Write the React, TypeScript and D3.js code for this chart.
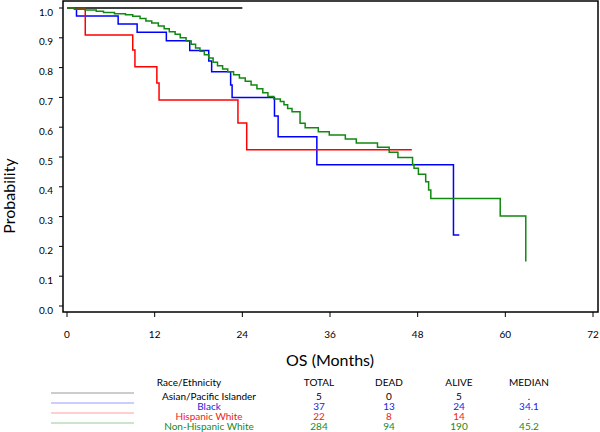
import React from "react";
import * as d3 from "d3";

// ---- data ----
const seriesNames = ["Asian/Pacific Islander", "Black", "Hispanic White", "Non-Hispanic White"];
const seriesColors = ["#000000", "#0000ff", "#ff0000", "#118811"];
const legendLineColors = ["#9a9a9a", "#9a9aff", "#ffa0a0", "#99c899"];
const textColors = ["#000000", "#2222dd", "#ee2222", "#228822"];

const asianTimes: number[] = [];
const asianSurv: number[] = [];
const asianEnd = 24;

const blackTimes = [1.3, 7.0, 9.6, 13.6, 16.8, 19.4, 19.8, 22.4, 22.6, 28.4, 28.9, 34.2, 52.9];
const blackSurv = [0.973, 0.946, 0.919, 0.89, 0.857, 0.822, 0.786, 0.742, 0.7, 0.638, 0.568, 0.474, 0.238];
const blackEnd = 53.7;

const hispTimes = [2.5, 9.0, 9.3, 12.3, 12.6, 23.4, 24.6];
const hispSurv = [0.909, 0.859, 0.803, 0.748, 0.691, 0.614, 0.524];
const hispEnd = 47.2;

const nhwTimes = [1.0, 2.5, 4.0, 5.0, 6.5, 8.0, 9.0, 10.0, 10.8, 11.6, 12.5, 13.3, 14.0, 14.8, 15.5, 16.3, 17.0, 17.6, 18.2, 18.8, 19.4, 20.0, 20.6, 21.3, 22.0, 22.8, 23.6, 24.4, 25.2, 26.0, 26.8, 27.5, 28.3, 29.2, 29.7, 30.2, 30.8, 31.9, 32.6, 34.4, 35.9, 38.1, 39.6, 42.5, 44.1, 45.3, 47.3, 47.5, 48.1, 49.1, 49.5, 49.8, 59.3, 62.8];
const nhwSurv = [0.996, 0.993, 0.989, 0.985, 0.981, 0.977, 0.972, 0.965, 0.956, 0.95, 0.94, 0.93, 0.92, 0.912, 0.9, 0.889, 0.878, 0.866, 0.855, 0.843, 0.832, 0.818, 0.806, 0.795, 0.786, 0.776, 0.765, 0.754, 0.742, 0.729, 0.716, 0.703, 0.695, 0.686, 0.675, 0.663, 0.652, 0.613, 0.598, 0.585, 0.574, 0.56, 0.547, 0.533, 0.516, 0.498, 0.475, 0.462, 0.442, 0.417, 0.389, 0.361, 0.302, 0.149];
const nhwEnd = 62.8;

const totals = ["5", "37", "22", "284"];
const deads = ["0", "13", "8", "94"];
const alives = ["5", "24", "14", "190"];
const medians = [".", "34.1", ".", "45.2"];

const xTicks = [0, 12, 24, 36, 48, 60, 72];
const yTicks = [0, 0.1, 0.2, 0.3, 0.4, 0.5, 0.6, 0.7, 0.8, 0.9, 1.0];

const FONT = "Lato, 'Open Sans', sans-serif";

export default function App() {
  const x = d3.scaleLinear().domain([0, 72]).range([67, 593]);
  const y = d3.scaleLinear().domain([0, 1]).range([306, 8]);
  const line = d3
    .line<[number, number]>()
    .x((d) => x(d[0]))
    .y((d) => y(d[1]))
    .curve(d3.curveStepAfter);

  const build = (times: number[], surv: number[], end: number): [number, number][] => {
    const pts: [number, number][] = [[0, 1]];
    times.forEach((t, i) => pts.push([t, surv[i]]));
    const last = surv.length ? surv[surv.length - 1] : 1;
    pts.push([end, last]);
    return pts;
  };

  const curves = [
    build(asianTimes, asianSurv, asianEnd),
    build(blackTimes, blackSurv, blackEnd),
    build(hispTimes, hispSurv, hispEnd),
    build(nhwTimes, nhwSurv, nhwEnd),
  ];

  const frame = { l: 63, r: 598, t: 1, b: 312 };
  const rowY = [399.5, 409.5, 419.5, 429.5];
  const lineY = [393, 403, 413, 423];

  return (
    <svg
      width={600}
      height={432}
      style={{ position: "absolute", left: 0, top: 0, background: "#fff" }}
      fontFamily={FONT}
    >
      <rect x={0} y={0} width={600} height={432} fill="#fff" />
      {/* curves */}
      {curves.map((c, i) => (
        <path key={i} d={line(c) || ""} fill="none" stroke={seriesColors[i]} strokeWidth={1.5} />
      ))}
      {/* frame */}
      <rect
        x={frame.l}
        y={frame.t}
        width={frame.r - frame.l}
        height={frame.b - frame.t}
        fill="none"
        stroke="#000"
        strokeWidth={1.5}
      />
      {/* y ticks */}
      {yTicks.map((v) => (
        <g key={v}>
          <line x1={frame.l - 4} x2={frame.l} y1={y(v)} y2={y(v)} stroke="#000" strokeWidth={1} />
          <text x={53} y={y(v) + 7.5} fontSize={10} textAnchor="end" fill="#000">
            {v.toFixed(1)}
          </text>
        </g>
      ))}
      {/* x ticks */}
      {xTicks.map((v) => (
        <g key={v}>
          <line x1={x(v)} x2={x(v)} y1={frame.b} y2={frame.b + 5} stroke="#000" strokeWidth={1} />
          <text x={x(v)} y={338} fontSize={10} textAnchor="middle" fill="#000">
            {v}
          </text>
        </g>
      ))}
      {/* axis titles */}
      <text x={330} y={366} fontSize={16} textAnchor="middle" fill="#000">
        OS (Months)
      </text>
      <text
        transform="translate(15,196) rotate(-90)"
        fontSize={16}
        textAnchor="middle"
        fill="#000"
      >
        Probability
      </text>
      {/* legend table */}
      <g fontSize={10}>
        <text x={189} y={385.5} textAnchor="middle">Race/Ethnicity</text>
        <text x={319} y={385.5} textAnchor="middle">TOTAL</text>
        <text x={389} y={385.5} textAnchor="middle">DEAD</text>
        <text x={459} y={385.5} textAnchor="middle">ALIVE</text>
        <text x={529} y={385.5} textAnchor="middle">MEDIAN</text>
        {seriesNames.map((n, i) => (
          <g key={n}>
            <line x1={51} x2={134} y1={lineY[i]} y2={lineY[i]} stroke={legendLineColors[i]} strokeWidth={1} />
            <text x={209} y={rowY[i]} textAnchor="middle" fill={textColors[i]}>{n}</text>
            <text x={319} y={rowY[i]} textAnchor="middle" fill={textColors[i]}>{totals[i]}</text>
            <text x={389} y={rowY[i]} textAnchor="middle" fill={textColors[i]}>{deads[i]}</text>
            <text x={459} y={rowY[i]} textAnchor="middle" fill={textColors[i]}>{alives[i]}</text>
            <text x={529} y={rowY[i]} textAnchor="middle" fill={textColors[i]}>{medians[i]}</text>
          </g>
        ))}
      </g>
    </svg>
  );
}
